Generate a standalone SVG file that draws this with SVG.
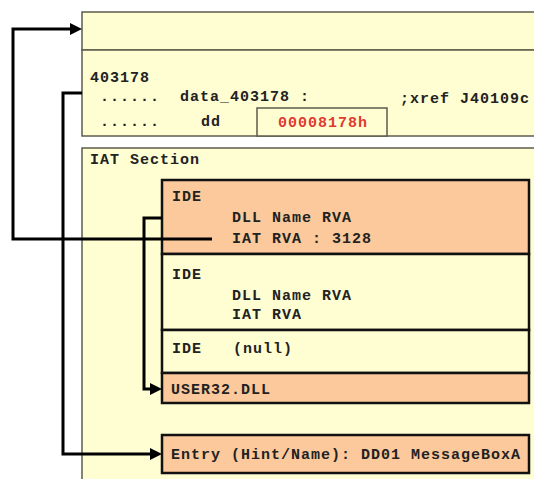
<svg xmlns="http://www.w3.org/2000/svg" width="534" height="479" viewBox="0 0 534 479">
<defs>
<style>
.sec{fill:#fffdd2;stroke:#5c5c4c;stroke-width:1.5}
.ora{fill:#fbc99b;stroke:#111;stroke-width:2.5}
.yel{fill:#fffdd2;stroke:#111;stroke-width:2.5}
.t{font-family:"Liberation Mono","Courier New",monospace;font-weight:bold;font-size:15px;letter-spacing:1px;fill:#222}
.red{fill:#e03a30}
.con{fill:none;stroke:#000;stroke-width:3}
</style>
<marker id="ah" markerWidth="12" markerHeight="12" refX="0" refY="6" orient="auto" markerUnits="userSpaceOnUse">
<path d="M0,0 L12,6 L0,12 z" fill="#000"/>
</marker>
</defs>
<rect width="534" height="479" fill="#fff"/>
<g id="top-box">
<rect class="sec" x="82" y="12" width="460" height="38"/>
</g>
<g id="data-box">
<rect class="sec" x="82" y="50" width="460" height="86"/>
<text class="t" x="90" y="82">403178</text>
<text class="t" x="100" y="101">......</text>
<text class="t" x="180" y="101">data_403178 :</text>
<text class="t" x="400" y="103">;xref J40109c</text>
<text class="t" x="100" y="126">......</text>
<text class="t" x="201" y="126">dd</text>
</g>
<g id="value-box">
<rect class="sec" x="257" y="108" width="130" height="28"/>
<text class="t red" x="278" y="127">00008178h</text>
</g>
<g id="iat-section">
<rect class="sec" x="82" y="148" width="460" height="340"/>
<text class="t" x="90" y="164">IAT Section</text>
</g>
<g id="ide1">
<rect class="ora" x="162" y="180" width="367" height="74"/>
<text class="t" x="172" y="201">IDE</text>
<text class="t" x="232" y="222">DLL Name RVA</text>
<text class="t" x="232" y="243">IAT RVA : 3128</text>
</g>
<g id="ide2">
<rect class="yel" x="162" y="254" width="367" height="76"/>
<text class="t" x="172" y="279">IDE</text>
<text class="t" x="232" y="300">DLL Name RVA</text>
<text class="t" x="232" y="319">IAT RVA</text>
</g>
<g id="ide3">
<rect class="yel" x="162" y="330" width="367" height="43"/>
<text class="t" x="172" y="353">IDE</text>
<text class="t" x="233" y="353">(null)</text>
</g>
<g id="user32">
<rect class="ora" x="162" y="373" width="367" height="30"/>
<text class="t" x="171" y="394">USER32.DLL</text>
</g>
<g id="entry">
<rect class="ora" x="162" y="435" width="367" height="38"/>
<text class="t" x="171" y="459">Entry (Hint/Name): DD01 MessageBoxA</text>
</g>
<g id="connectors">
<path class="con" d="M212,239 H13 V29 H70" marker-end="url(#ah)"/>
<path class="con" d="M82,93 H63 V454 H150" marker-end="url(#ah)"/>
<path class="con" d="M162,218 H144 V389 H150" marker-end="url(#ah)"/>
</g>
</svg>
